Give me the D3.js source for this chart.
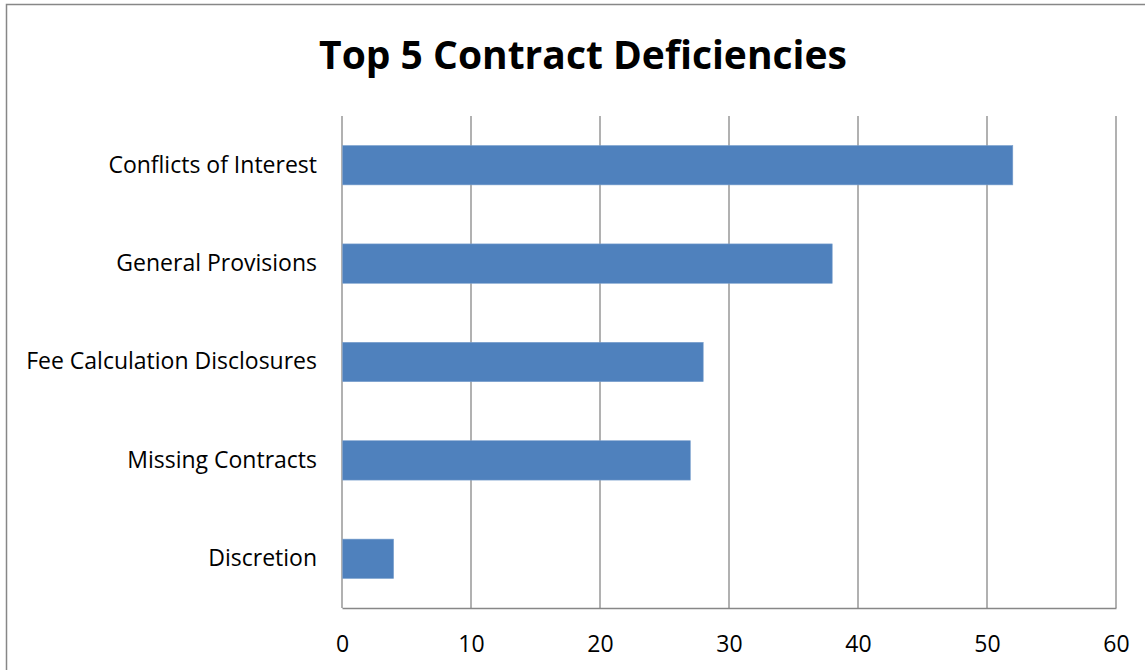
<!DOCTYPE html>
<html>
<head>
<meta charset="utf-8">
<script src="https://cdn.jsdelivr.net/npm/d3@7"></script>
<style>
  body { margin: 0; background: #fff; }
  svg text { font-family: "Open Sans", sans-serif; fill: #000; }
</style>
</head>
<body>
<div id="chart"></div>
<script>
// Chart data
const categories = ["Conflicts of Interest", "General Provisions", "Fee Calculation Disclosures", "Missing Contracts", "Discretion"];
const counts = [52, 38, 28, 27, 4];
const xTicks = [0, 10, 20, 30, 40, 50, 60];

const W = 1145, H = 670;
const margin = { top: 116, right: 29, bottom: 62, left: 342 },
      width = W - margin.left - margin.right,
      height = H - margin.top - margin.bottom;

const root = d3.select("#chart").append("svg")
    .attr("width", W)
    .attr("height", H);

// outer chart frame (runs off the right and bottom edges)
root.append("rect")
    .attr("x", 6.5).attr("y", 4.5)
    .attr("width", W + 10).attr("height", H + 10)
    .attr("fill", "none")
    .attr("stroke", "#878787")
    .attr("stroke-width", 1.5);

root.append("text")
    .attr("x", 583).attr("y", 69)
    .attr("text-anchor", "middle")
    .style("font-size", "39px")
    .style("font-weight", "bold")
    .text("Top 5 Contract Deficiencies");

const svg = root.append("g")
    .attr("transform", `translate(${margin.left},${margin.top})`);

const x = d3.scaleLinear().domain([0, 60]).range([0, width]);
const y = d3.scaleBand().domain(categories).range([0, height]).paddingInner(0.6).paddingOuter(0.3);

// vertical gridlines
svg.append("g")
    .selectAll("line")
    .data(xTicks)
    .join("line")
        .attr("x1", d => x(d)).attr("x2", d => x(d))
        .attr("y1", 0).attr("y2", height)
        .attr("stroke", "#878787")
        .attr("stroke-width", 1.3);

// bars
svg.append("g")
    .selectAll("rect")
    .data(categories)
    .join("rect")
        .attr("x", x(0) + 0.7)
        .attr("y", d => y(d))
        .attr("width", (d, i) => x(counts[i]) - x(0) - 0.7)
        .attr("height", y.bandwidth())
        .attr("fill", "#4F81BD")
        .attr("stroke", "#7BA0CD")
        .attr("stroke-width", 0.6);

// x axis
const xAxis = svg.append("g")
    .attr("transform", `translate(0,${height})`)
    .call(d3.axisBottom(x).tickValues(xTicks).tickSize(0).tickPadding(28));
xAxis.select(".domain").attr("stroke", "#878787").attr("stroke-width", 1.5);
xAxis.selectAll("text").style("font-size", "23px").style("font-family", "'Open Sans', sans-serif");

// y axis labels
const yAxis = svg.append("g")
    .call(d3.axisLeft(y).tickSize(0).tickPadding(25));
yAxis.select(".domain").remove();
yAxis.selectAll("text").style("font-size", "23px").style("font-family", "'Open Sans', sans-serif");
</script>
</body>
</html>
